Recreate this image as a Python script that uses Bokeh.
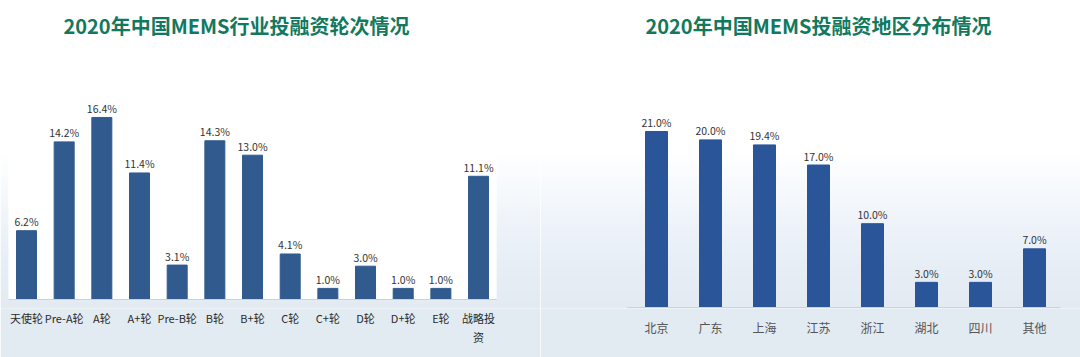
from bokeh.plotting import figure
from bokeh.models import Range1d, BoxAnnotation, Label, FixedTicker, ColumnDataSource
from bokeh.layouts import row
from bokeh.embed import file_html
from bokeh.resources import INLINE
from bokeh.core.properties import value

# ---------------- data ----------------
round_labels = ["天使轮", "Pre-A轮", "A轮", "A+轮", "Pre-B轮", "B轮", "B+轮",
                "C轮", "C+轮", "D轮", "D+轮", "E轮", "战略投\n资"]
round_share = [6.2, 14.2, 16.4, 11.4, 3.1, 14.3, 13.0, 4.1, 1.0, 3.0, 1.0, 1.0, 11.1]

region_labels = ["北京", "广东", "上海", "江苏", "浙江", "湖北", "四川", "其他"]
region_share = [21.0, 20.0, 19.4, 17.0, 10.0, 3.0, 3.0, 7.0]

title_left = "2020年中国MEMS行业投融资轮次情况"
title_right = "2020年中国MEMS投融资地区分布情况"

FONT = "Noto Sans CJK SC"
TITLE_COLOR = "#12795f"
BORDER_BOTTOM = 49   # same for both panels (row aligns frames)

# background gradient stops (page y px, colour)
GRAD = [(150, (255, 255, 255)), (190, (246, 249, 252)), (230, (236, 242, 248)),
        (270, (230, 237, 245)), (310, (226, 234, 242)), (357, (222, 231, 240))]


def grad_color(y):
    for (y0, c0), (y1, c1) in zip(GRAD[:-1], GRAD[1:]):
        if y0 <= y <= y1:
            t = (y - y0) / (y1 - y0)
            c = tuple(int(round(a + (b - a) * t)) for a, b in zip(c0, c1))
            return "#%02x%02x%02x" % c
    return "#%02x%02x%02x" % GRAD[-1][1]


def add_gradient(p, base_px, ppu, bottom_px):
    y = 150
    step = 4
    while y < bottom_px:
        top_d = (base_px - y) / ppu
        bot_d = (base_px - (y + step + 0.6)) / ppu
        p.add_layout(BoxAnnotation(top=top_d, bottom=bot_d, fill_color=grad_color(y + step / 2),
                                   fill_alpha=1, line_alpha=0, level="underlay"))
        y += step


def make_panel(labels, vals, title, base_px, ppu, x_start, x_end, bar_w, bar_color,
               label_size, label_color, standoff, title_x, white_box,
               base_x0, base_x1, border_color):
    n = len(labels)
    height = 357
    frame_h = height - BORDER_BOTTOM
    p = figure(width=540, height=height, output_backend="svg", toolbar_location=None,
               x_range=Range1d(x_start, x_end),
               y_range=Range1d(-(frame_h - base_px) / ppu, base_px / ppu),
               min_border_left=0, min_border_right=0, min_border_top=0,
               min_border_bottom=BORDER_BOTTOM)
    p.outline_line_color = None
    p.background_fill_color = "white"
    p.border_fill_color = border_color
    p.xgrid.visible = False
    p.ygrid.visible = False
    p.yaxis.visible = False

    add_gradient(p, base_px, ppu, frame_h)
    if white_box:
        p.add_layout(BoxAnnotation(left=base_x0, right=base_x1, bottom=0,
                                   fill_color="white", fill_alpha=1, line_alpha=0,
                                   level="underlay"))

    xs = list(range(n))
    src = ColumnDataSource(dict(x=xs, v=vals, t=["%.1f%%" % v for v in vals]))
    p.vbar(x="x", top="v", bottom=0, width=bar_w, source=src,
           fill_color=bar_color, line_color=bar_color)
    p.text(x="x", y="v", text="t", source=src, text_align="center",
           text_baseline="alphabetic", y_offset=-9, text_font=value(FONT),
           text_font_size="10.5px", text_color="#333333")
    p.segment(x0=[base_x0], x1=[base_x1], y0=[0], y1=[0], line_color="#c9d1da", line_width=1.2)

    ax = p.xaxis[0]
    ax.ticker = FixedTicker(ticks=xs)
    ax.major_label_overrides = {i: lab for i, lab in enumerate(labels)}
    ax.axis_line_color = None
    ax.major_tick_line_color = None
    ax.minor_tick_line_color = None
    ax.major_tick_out = 0
    ax.major_tick_in = 0
    ax.major_label_standoff = standoff
    ax.major_label_text_font = FONT
    ax.major_label_text_font_size = label_size
    ax.major_label_text_color = label_color

    p.add_layout(Label(x=title_x, y=(base_px - 25) / ppu, text=title, text_align="center",
                       text_baseline="middle", text_font=FONT, text_font_size="20px",
                       text_font_style="bold", text_color=TITLE_COLOR))
    return p


# left panel: baseline at page y 299, 11.1 px per %, bar centers at 26 + 37.67*i
ppu_l = 11.1
step_l = 37.67
xs_l = -26 / step_l
p1 = make_panel(round_labels, round_share, title_left, base_px=299, ppu=ppu_l,
                x_start=xs_l, x_end=xs_l + 540 / step_l, bar_w=20 / step_l,
                bar_color="#315b8e", label_size="11px",
                label_color="#2a2a2a", standoff=1,
                title_x=xs_l + 236 / step_l, white_box=True,
                base_x0=-0.48, base_x1=len(round_labels) - 1 + 0.48,
                border_color="#e2eaf2")

# right panel: baseline at page y 307, 8.381 px per %, bar centers at 656 + 54*i (page)
ppu_r = 8.381
step_r = 54.0
xs_r = -116 / step_r
p2 = make_panel(region_labels, region_share, title_right, base_px=307, ppu=ppu_r,
                x_start=xs_r, x_end=xs_r + 540 / step_r, bar_w=22 / step_r,
                bar_color="#2a5598", label_size="12px",
                label_color="#555555", standoff=10,
                title_x=xs_r + 278 / step_r, white_box=False,
                base_x0=-0.54, base_x1=len(region_labels) - 1 + 0.48,
                border_color="#e2eaf2")

layout = row(p1, p2, spacing=0)
open("out.html", "w").write(file_html(layout, INLINE))
